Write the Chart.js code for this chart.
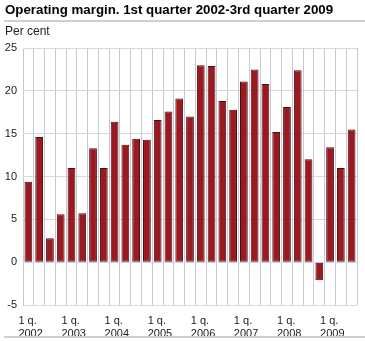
<!DOCTYPE html>
<html><head><meta charset="utf-8">
<script src="https://cdn.jsdelivr.net/npm/chart.js@4"></script>
<style>html,body{margin:0;padding:0;background:#fff}#w{position:relative;width:365px;height:341px}</style>
</head><body><div id="w"><canvas id="c" width="365" height="341"></canvas></div>
<script>
const titleText = 'Operating margin. 1st quarter 2002-3rd quarter 2009';
const unitText = 'Per cent';
const years = ['2002','2003','2004','2005','2006','2007','2008','2009'];
const quarters = ['1 q.','2 q.','3 q.','4 q.'];
const margin = [9.4,14.6,2.8,5.6, 11.0,5.7,13.3,11.0, 16.4,13.7,14.4,14.3, 16.6,17.6,19.1,17.0, 23.0,22.9,18.8,17.8, 21.1,22.5,20.8,15.2, 18.1,22.4,12.0,-2.1, 13.4,11.0,15.5];
const yTicks = [-5,0,5,10,15,20,25];

const labels = [];
years.forEach(y => quarters.forEach(q => { if (labels.length < margin.length) labels.push(q === '1 q.' ? [q, y] : ''); }));

const F = '"Liberation Sans", Arial, sans-serif';
const deco = {
  id: 'deco',
  afterDraw(chart) {
    const ctx = chart.ctx;
    ctx.save();
    ctx.fillStyle = '#000';
    ctx.font = 'bold 13.3px ' + F;
    ctx.textBaseline = 'alphabetic';
    ctx.textAlign = 'left';
    ctx.fillText(titleText, 5, 14);
    ctx.fillStyle = '#cfcfcf';
    ctx.fillRect(4, 20, 361, 2);
    ctx.fillRect(4, 336, 361, 2);
    ctx.fillStyle = '#222';
    ctx.font = '12px ' + F;
    ctx.fillText(unitText, 5, 35);
    ctx.restore();
  }
};

new Chart(document.getElementById('c'), {
  type: 'bar',
  data: { labels, datasets: [{ data: margin, backgroundColor: '#9a1a22', borderColor: '#4d0c10', borderWidth: 1, borderSkipped: false, barPercentage: 0.72, categoryPercentage: 1 }] },
  options: {
    responsive: false, animation: false, devicePixelRatio: 1,
    layout: { padding: { top: 48, right: 8, left: 0, bottom: 0 } },
    plugins: { legend: { display: false }, tooltip: { enabled: false }, title: { display: false } },
    scales: {
      x: {
        offset: true,
        grid: { offset: true, color: '#c8c8d2', lineWidth: 1, drawTicks: false },
        border: { display: false },
        ticks: { autoSkip: false, maxRotation: 0, minRotation: 0, align: 'start', labelOffset: -10, padding: 10, color: '#222', font: { family: F, size: 11, lineHeight: 1.15 } },
        afterFit(s) { s.height = 36; }
      },
      y: {
        min: -5, max: 25,
        afterBuildTicks(s) { s.ticks = yTicks.map(v => ({ value: v })); },
        grid: { color: '#d6d6de', lineWidth: 1, drawTicks: false },
        border: { display: false },
        ticks: { padding: 6, color: '#222', font: { family: F, size: 11 } },
        afterFit(s) { s.width = 23; }
      }
    }
  },
  plugins: [deco]
});
</script></body></html>
